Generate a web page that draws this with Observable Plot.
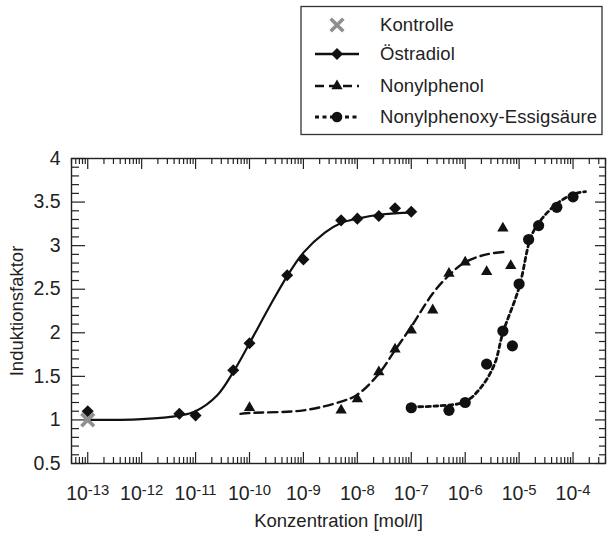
<!DOCTYPE html>
<html>
<head>
<meta charset="utf-8">
<script src="https://cdn.jsdelivr.net/npm/d3@7"></script>
<script src="https://cdn.jsdelivr.net/npm/@observablehq/plot@0.6"></script>
<style>
  body { margin: 0; background: #fff; }
  #wrap { position: relative; width: 608px; height: 533px; font-family: "Liberation Sans", Arial, Helvetica, sans-serif; }
  #legend { position: absolute; left: 0; top: 0; }
  #chart { position: absolute; left: 0; top: 140px; }
  #chart g[aria-label$="tick label"] { font-size: 19.5px; }
</style>
</head>
<body>
<div id="wrap"><svg id="legend" width="608" height="140"></svg><div id="chart"></div></div>
<script>
// ---------- data ----------
const seriesNames = ["Kontrolle", "Östradiol", "Nonylphenol", "Nonylphenoxy-Essigsäure"];

const kontrolleX = [1e-13];
const kontrolleY = [1.0];

const oestradiolX = [1e-13, 5e-12, 1e-11, 5e-11, 1e-10, 5e-10, 1e-9, 5e-9, 1e-8, 2.5e-8, 5e-8, 1e-7];
const oestradiolY = [1.10, 1.07, 1.05, 1.57, 1.88, 2.66, 2.84, 3.29, 3.31, 3.34, 3.43, 3.39];
const oestradiolFitX = [1e-13, 1e-12, 5e-12, 1e-11, 2.5e-11, 5e-11, 1e-10, 2.5e-10, 5e-10, 1e-9, 2.5e-9, 5e-9, 1e-8, 3e-8, 1e-7];
const oestradiolFitY = [1.00, 1.01, 1.05, 1.10, 1.28, 1.55, 1.88, 2.33, 2.65, 2.92, 3.15, 3.26, 3.31, 3.36, 3.38];

const nonylphenolX = [1e-10, 5e-9, 1e-8, 2.5e-8, 5e-8, 1e-7, 2.5e-7, 5e-7, 1e-6, 2.5e-6, 5e-6, 7e-6];
const nonylphenolY = [1.14, 1.11, 1.24, 1.55, 1.81, 2.03, 2.26, 2.68, 2.81, 2.70, 3.20, 2.77];
const nonylphenolFitX = [6.8e-11, 1e-10, 1e-9, 5e-9, 1e-8, 2.5e-8, 5e-8, 1e-7, 2.5e-7, 5e-7, 1e-6, 2.5e-6, 6e-6];
const nonylphenolFitY = [1.07, 1.08, 1.11, 1.21, 1.29, 1.53, 1.80, 2.07, 2.45, 2.66, 2.81, 2.90, 2.93];

const essigX = [1e-7, 5e-7, 1e-6, 2.5e-6, 5e-6, 7.5e-6, 1e-5, 1.5e-5, 2.3e-5, 5e-5, 1e-4];
const essigY = [1.14, 1.11, 1.20, 1.64, 2.02, 1.85, 2.56, 3.07, 3.23, 3.44, 3.56];
const essigFitX = [1e-7, 3e-7, 1e-6, 2e-6, 3.5e-6, 5e-6, 1e-5, 1.66e-5, 2.5e-5, 5e-5, 1e-4, 1.7e-4];
const essigFitY = [1.15, 1.16, 1.21, 1.38, 1.64, 2.00, 2.52, 3.10, 3.29, 3.48, 3.59, 3.62];

const xMajor = [1e-13, 1e-12, 1e-11, 1e-10, 1e-9, 1e-8, 1e-7, 1e-6, 1e-5, 1e-4];
const yMajor = [0.5, 1, 1.5, 2, 2.5, 3, 3.5, 4];
const xDomain = [5e-14, 4e-4];
const yDomain = [0.5, 4];
const xTitle = "Konzentration [mol/l]";
const yTitle = "Induktionsfaktor";

// ---------- helpers ----------
const zip = (xs, ys) => xs.map((x, i) => ({x, y: ys[i]}));
const kontrolle = zip(kontrolleX, kontrolleY);
const oestradiol = zip(oestradiolX, oestradiolY);
const oestradiolFit = zip(oestradiolFitX, oestradiolFitY);
const nonylphenol = zip(nonylphenolX, nonylphenolY);
const nonylphenolFit = zip(nonylphenolFitX, nonylphenolFitY);
const essig = zip(essigX, essigY);
const essigFit = zip(essigFitX, essigFitY);

const xMinor = [];
for (let e = -14; e <= -4; e++) for (let k = 2; k <= 9; k++) {
  const v = +(k * Math.pow(10, e)).toPrecision(6);
  if (v >= xDomain[0] && v <= xDomain[1]) xMinor.push(v);
}
const yMinor = [];
for (let i = 5; i <= 40; i++) if (i % 5 !== 0) yMinor.push(i / 10);

const FONT = '"Liberation Sans", Arial, Helvetica, sans-serif';
const INK = "#222";
const W = 608, H = 393, mT = 18, mB = 70, mL = 71, mR = 3;
const FH = H - mT - mB, FW = W - mL - mR;

const dashNP = "9,5";
const dashES = "4,3.5";
const grey = "#8f8f8f";

const chart = Plot.plot({
  width: W, height: H,
  marginTop: mT, marginBottom: mB, marginLeft: mL, marginRight: mR,
  style: {fontFamily: FONT, fontSize: "18.5px", color: INK, background: "transparent", overflow: "visible"},
  x: {type: "log", domain: xDomain},
  y: {domain: yDomain},
  marks: [
    // ticks (inward, mirrored)
    Plot.tickX(xMajor, {x: d => d, insetTop: FH - 11, stroke: INK, strokeWidth: 1.2}),
    Plot.tickX(xMajor, {x: d => d, insetBottom: FH - 11, stroke: INK, strokeWidth: 1.2}),
    Plot.tickX(xMinor, {x: d => d, insetTop: FH - 6, stroke: INK, strokeWidth: 1.2}),
    Plot.tickX(xMinor, {x: d => d, insetBottom: FH - 6, stroke: INK, strokeWidth: 1.2}),
    Plot.tickY(yMajor, {y: d => d, insetRight: FW - 14, stroke: INK, strokeWidth: 1.2}),
    Plot.tickY(yMajor, {y: d => d, insetLeft: FW - 10, stroke: INK, strokeWidth: 1.2}),
    Plot.tickY(yMinor, {y: d => d, insetRight: FW - 8, stroke: INK, strokeWidth: 1.2}),
    Plot.tickY(yMinor, {y: d => d, insetLeft: FW - 6, stroke: INK, strokeWidth: 1.2}),
    Plot.frame({stroke: INK, strokeWidth: 1.4}),
    Plot.axisX({ticks: xMajor, tickSize: 0, tickPadding: 23, tickFormat: d => "10^" + Math.round(Math.log10(d)), label: null, fontSize: 19.5}),
    Plot.axisY({ticks: yMajor, tickSize: 0, tickPadding: 11, tickFormat: d => String(d), label: null, fontSize: 19.5}),
    Plot.text([xTitle], {text: d => d, frameAnchor: "bottom", dy: 58, textAnchor: "middle", lineAnchor: "middle", fontSize: 18.5, fill: INK}),
    Plot.text([yTitle], {text: d => d, frameAnchor: "left", dx: -54, rotate: -90, textAnchor: "middle", lineAnchor: "middle", fontSize: 18.5, fill: INK}),
    // fitted curves
    Plot.line(oestradiolFit, {x: "x", y: "y", curve: "catmull-rom", stroke: "#111", strokeWidth: 2.2}),
    Plot.line(nonylphenolFit, {x: "x", y: "y", curve: "catmull-rom", stroke: "#111", strokeWidth: 2.4, strokeDasharray: dashNP}),
    Plot.line(essigFit, {x: "x", y: "y", curve: "catmull-rom", stroke: "#111", strokeWidth: 2.8, strokeDasharray: dashES}),
    // measured points
    Plot.dot(oestradiol, {x: "x", y: "y", symbol: "square", rotate: 45, r: 4.8, fill: "#111", stroke: "none"}),
    Plot.dot(nonylphenol, {x: "x", y: "y", symbol: "triangle", r: 4.2, fill: "#111", stroke: "none"}),
    Plot.dot(essig, {x: "x", y: "y", symbol: "circle", r: 5.6, fill: "#111", stroke: "none"}),
    Plot.dot(kontrolle, {x: "x", y: "y", symbol: "times", r: 5.8, stroke: grey, strokeWidth: 3.6})
  ]
});

// superscript exponents on the x tick labels
d3.select(chart).selectAll("text").each(function () {
  const m = /^10\^(-?\d+)$/.exec(this.textContent);
  if (m) {
    this.textContent = "10";
    d3.select(this).append("tspan").attr("dy", "-0.36em").attr("font-size", "0.76em").text(m[1]);
  }
});
document.getElementById("chart").appendChild(chart);

// ---------- legend ----------
const lg = d3.select("#legend");
lg.append("rect").attr("x", 301).attr("y", 6.5).attr("width", 301).attr("height", 128)
  .attr("fill", "none").attr("stroke", "#333").attr("stroke-width", 1.3);
const rowsY = [25, 54, 86, 117];
const symX = 337, lineX1 = 315, lineX2 = 359, textX = 380;
const sym = (type, r) => d3.symbol(type, Math.PI * r * r)();
seriesNames.forEach((name, i) => {
  const y = rowsY[i];
  const g = lg.append("g");
  if (i === 0) {
    g.append("path").attr("d", sym(d3.symbolTimes, 5.8)).attr("transform", `translate(${symX},${y})`)
      .attr("fill", "none").attr("stroke", grey).attr("stroke-width", 3.6);
  } else {
    const dash = i === 1 ? null : i === 2 ? dashNP : dashES;
    g.append("line").attr("x1", lineX1).attr("x2", lineX2).attr("y1", y).attr("y2", y)
      .attr("stroke", "#111").attr("stroke-width", i === 3 ? 2.8 : 2.3).attr("stroke-dasharray", dash);
    const p = i === 1 ? sym(d3.symbolSquare, 4.8) : i === 2 ? sym(d3.symbolTriangle, 4.2) : sym(d3.symbolCircle, 5.3);
    g.append("path").attr("d", p).attr("transform", `translate(${symX},${y})` + (i === 1 ? " rotate(45)" : ""))
      .attr("fill", "#111");
  }
  g.append("text").attr("x", textX).attr("y", y).attr("dy", "0.35em")
    .attr("font-family", FONT).attr("font-size", 18.5).attr("letter-spacing", "0.1px").attr("fill", INK).text(name);
});
</script>
</body>
</html>
